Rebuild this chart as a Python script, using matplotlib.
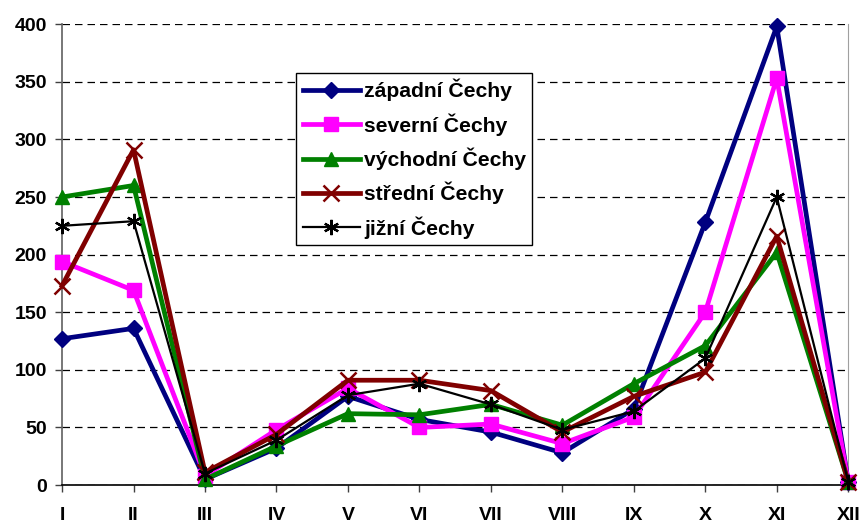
import matplotlib
matplotlib.use("Agg")
import matplotlib.pyplot as plt

months = ["I", "II", "III", "IV", "V", "VI", "VII", "VIII", "IX", "X", "XI", "XII"]
zapadni = [127, 136, 5, 32, 77, 57, 46, 28, 66, 228, 398, 3]
severni = [194, 169, 8, 48, 84, 50, 53, 36, 59, 150, 353, 3]
vychodni = [250, 260, 5, 34, 62, 61, 70, 52, 88, 121, 202, 3]
stredni = [173, 291, 11, 44, 91, 91, 82, 46, 77, 98, 216, 3]
jizni = [225, 229, 10, 39, 78, 88, 70, 48, 64, 110, 250, 3]

names = ["západní Čechy", "severní Čechy", "východní Čechy", "střední Čechy", "jižní Čechy"]

plt.rcParams['font.family'] = ['Liberation Sans', 'DejaVu Sans']

fig = plt.figure(figsize=(8.62, 5.25), dpi=100)
ax = fig.add_axes([0.072, 0.076, 0.912, 0.878])

x = list(range(len(months)))
styles = [
    (zapadni, dict(color="#000080", marker="D", markersize=8, lw=3.4)),
    (severni, dict(color="#FF00FF", marker="s", markersize=10, lw=3.4)),
    (vychodni, dict(color="#008000", marker="^", markersize=10, lw=3.4)),
    (stredni, dict(color="#800000", marker="x", markersize=11, mew=1.8, lw=3.4)),
    (jizni, dict(color="#000000", marker=(6, 2, 0), markersize=11, mew=1.6, lw=1.6)),
]
for (vals, st), name in zip(styles, names):
    ax.plot(x, vals, label=name, clip_on=False, zorder=3, **st)

ax.set_xlim(0, 11)
ax.set_ylim(0, 400)
ax.set_yticks(range(0, 401, 50))
ax.set_xticks(x)
ax.set_xticklabels(months)
ax.yaxis.grid(True, linestyle=(0, (6, 4)), color="black", lw=0.9)
ax.set_axisbelow(True)

for lab in ax.get_xticklabels() + ax.get_yticklabels():
    lab.set_fontweight("bold")
    lab.set_fontsize(14)
ax.tick_params(axis="both", direction="out", length=5, width=1, colors="#404040", labelcolor="black")
ax.tick_params(axis="x", pad=11)
ax.tick_params(axis="y", pad=6)

ax.spines["top"].set_visible(False)
ax.spines["right"].set_color("#a0a0a0")
ax.spines["left"].set_color("#606060")
ax.spines["left"].set_linewidth(1.2)
ax.spines["bottom"].set_color("black")
ax.spines["bottom"].set_linewidth(1.2)

leg = ax.legend(loc="upper left", bbox_to_anchor=(0.298, 0.895), prop={"weight": "bold", "size": 15.2},
                frameon=True, fancybox=False, edgecolor="black", framealpha=1,
                handlelength=2.7, handletextpad=0.2, labelspacing=0.56, borderpad=0.3,
                borderaxespad=0)
leg.get_frame().set_linewidth(1.0)

fig.savefig("out.png", dpi=100)
